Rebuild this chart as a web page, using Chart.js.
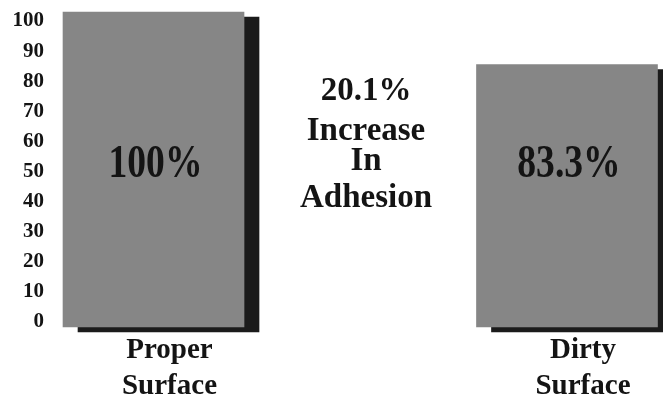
<!DOCTYPE html>
<html>
<head>
<meta charset="utf-8">
<script src="https://cdn.jsdelivr.net/npm/chart.js@4"></script>
<style>
  html, body { margin: 0; padding: 0; background: #ffffff; }
  canvas { display: block; }
</style>
</head>
<body>
<canvas id="c" width="663" height="400"></canvas>
<script>
// Surface condition categories (two-line axis labels)
const CATEGORIES = [["Proper", "Surface"], ["Dirty", "Surface"]];
// Relative adhesion, percent
const ADHESION = [100, 83.3];
// Left axis tick labels
const Y_TICKS = [0, 10, 20, 30, 40, 50, 60, 70, 80, 90, 100];
// Centre note
const NOTE_LINES = ["20.1%", "Increase", "In", "Adhesion"];

const SERIF = '"Liberation Serif", "Times New Roman", serif';

// Solid drop shadow behind each bar
const barShadow = {
  id: 'barShadow',
  beforeDatasetDraw(chart) {
    const ctx = chart.ctx;
    ctx.save();
    ctx.shadowColor = '#1b1b1b';
    ctx.shadowOffsetX = 15;
    ctx.shadowOffsetY = 5;
    ctx.shadowBlur = 0;
  },
  afterDatasetDraw(chart) {
    chart.ctx.restore();
  }
};

// Percentage printed inside each bar, plus the centre note
const barText = {
  id: 'barText',
  afterDatasetsDraw(chart) {
    const ctx = chart.ctx;
    const meta = chart.getDatasetMeta(0);
    const yBase = chart.scales.y.getPixelForValue(47.6);
    meta.data.forEach((bar, i) => {
      ctx.save();
      ctx.translate(bar.x + 2, yBase);
      ctx.scale(0.8, 1);
      ctx.font = 'bold 47px ' + SERIF;
      ctx.textAlign = 'center';
      ctx.textBaseline = 'alphabetic';
      ctx.fillStyle = '#141414';
      ctx.fillText(ADHESION[i] + '%', 0, 0);
      ctx.restore();
    });

    const baselines = [100, 140, 170, 207];
    ctx.save();
    ctx.font = 'bold 33px ' + SERIF;
    ctx.textAlign = 'center';
    ctx.textBaseline = 'alphabetic';
    ctx.fillStyle = '#141414';
    NOTE_LINES.forEach((line, i) => ctx.fillText(line, 366, baselines[i]));
    ctx.restore();
  }
};

new Chart(document.getElementById('c'), {
  type: 'bar',
  data: {
    datasets: [{
      data: ADHESION.map((v, i) => ({ x: i, y: v })),
      backgroundColor: '#868686',
      borderWidth: 0,
      barThickness: 181,
      clip: false,
      yAxisID: 'y'
    }]
  },
  options: {
    responsive: false,
    animation: false,
    layout: { padding: { top: 12, right: 0, left: 0, bottom: 0 } },
    plugins: {
      legend: { display: false },
      tooltip: { enabled: false }
    },
    scales: {
      x: {
        type: 'linear',
        offset: false,
        min: -0.2189,
        max: 1.2322,
        grid: { display: false, drawTicks: false, offset: false },
        border: { display: false },
        afterBuildTicks: s => { s.ticks = CATEGORIES.map((_, i) => ({ value: i })); },
        afterFit: s => {
          s.height = 73;
          s.paddingLeft = 0; s.paddingRight = 0;
        },
        ticks: {
          callback: (v) => CATEGORIES[v] || '',
          color: '#141414',
          font: { family: SERIF, size: 29, weight: 'bold', lineHeight: 1.25 },
          padding: 5,
          labelOffset: 16,
          maxRotation: 0,
          autoSkip: false
        }
      },
      y: {
        display: false,
        min: 0,
        max: 100
      },
      yt: {
        position: 'left',
        min: -1.66,
        max: 102.99,
        grid: { display: false, drawTicks: false },
        border: { display: false },
        afterBuildTicks: s => { s.ticks = Y_TICKS.map(v => ({ value: v })); },
        afterFit: s => {
          s.width = 63;
          s.paddingTop = 0; s.paddingBottom = 0;
        },
        ticks: {
          color: '#141414',
          font: { family: SERIF, size: 21, weight: 'bold' },
          padding: 19
        }
      }
    }
  },
  plugins: [barShadow, barText]
});
</script>
</body>
</html>
